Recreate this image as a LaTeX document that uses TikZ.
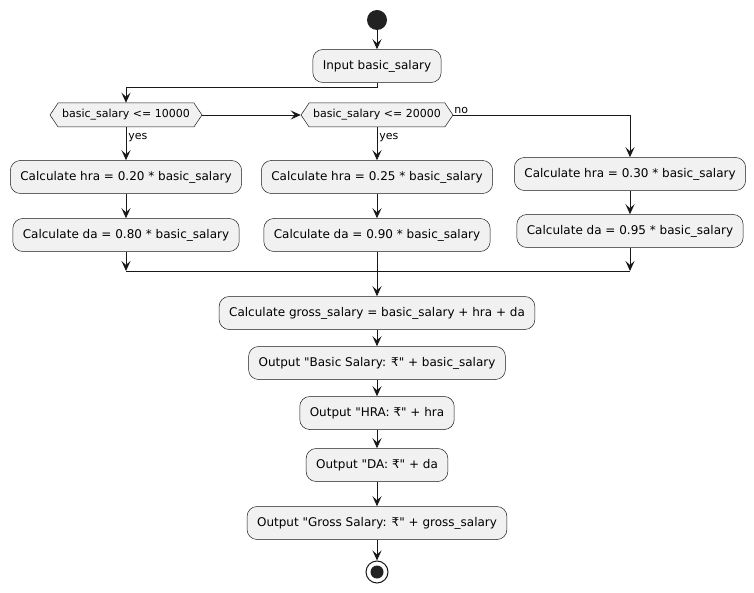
\documentclass[tikz,border=0pt]{standalone}
\usepackage{fontspec}
\setmainfont{DejaVu Sans}[Ligatures=TeXOff]
\usetikzlibrary{positioning,shapes.symbols,arrows.meta}

\definecolor{boxfill}{HTML}{F1F1F1}
\definecolor{boxline}{HTML}{181818}
\definecolor{dotfill}{HTML}{222222}

\begin{document}
\begin{tikzpicture}[
    x=1pt, y=-1pt,
    activity/.style={draw=boxline, line width=0.5pt, fill=boxfill, rounded corners=10pt,
        minimum height=33pt, inner xsep=10pt, font=\fontsize{12}{14}\selectfont},
    decision/.style={draw=boxline, line width=0.5pt, fill=boxfill, signal, signal to=west and east,
        signal pointer angle=112, minimum height=24pt, inner xsep=4pt, font=\fontsize{11}{13}\selectfont},
    flow/.style={-{Stealth[length=10pt,width=9pt,inset=4pt]}, draw=boxline, line width=0.9pt},
    link/.style={draw=boxline, line width=0.9pt},
    guard/.style={font=\fontsize{11}{13}\selectfont, inner sep=2pt}
]
\useasboundingbox (0,0) rectangle (754,593);

% Start
\node[circle, fill=dotfill, minimum size=20pt, inner sep=0pt] (start) at (377,20) {};

% Input
\node[activity] (input) at (377,66) {Input basic\_salary};

% Decisions
\node[decision] (check_low) at (126,115) {basic\_salary <= 10000};
\node[decision] (check_mid) at (377,115) {basic\_salary <= 20000};

% Branch activities
\node[activity] (hra_low) at (126,177) {Calculate hra = 0.20 * basic\_salary};
\node[activity] (da_low) at (126,235) {Calculate da = 0.80 * basic\_salary};
\node[activity] (hra_mid) at (377,177) {Calculate hra = 0.25 * basic\_salary};
\node[activity] (da_mid) at (377,235) {Calculate da = 0.90 * basic\_salary};
\node[activity] (hra_high) at (630,174) {Calculate hra = 0.30 * basic\_salary};
\node[activity] (da_high) at (630,231) {Calculate da = 0.95 * basic\_salary};

\coordinate (merge) at (377,271);

% Output activities
\node[activity] (gross) at (377,313) {Calculate gross\_salary = basic\_salary + hra + da};
\node[activity] (out_basic) at (377,363) {Output "Basic Salary: ₹" + basic\_salary};
\node[activity] (out_hra) at (377,413) {Output "HRA: ₹" + hra};
\node[activity] (out_da) at (377,465) {Output "DA: ₹" + da};
\node[activity] (out_gross) at (377,523) {Output "Gross Salary: ₹" + gross\_salary};

% Stop
\node[circle, draw=boxline, line width=1pt, fill=white, minimum size=22pt, inner sep=0pt] (stop) at (377,572) {};
\fill[dotfill] (stop) circle (6.5pt);

% Flows
\draw[flow] (start) -- (input);
\draw[flow] (input.south) -- ++(0,5) -| (check_low.north);
\draw[flow] (check_low.east) -- (check_mid.west);
\draw[flow] (check_low.south) -- node[guard, right, pos=0.3] {yes} (hra_low);
\draw[flow] (check_mid.south) -- node[guard, right, pos=0.3] {yes} (hra_mid);
\draw[flow] (check_mid.east) -| (hra_high.north);
\node[guard, above right, inner sep=1pt] (no_label) at (check_mid.east) {no};
\draw[flow] (hra_low) -- (da_low);
\draw[flow] (hra_mid) -- (da_mid);
\draw[flow] (hra_high) -- (da_high);

% Merge
\draw[flow] (da_low.south) -- (da_low.south |- merge);
\draw[flow] (da_high.south) -- (da_high.south |- merge);
\draw[link] (da_low.south |- merge) -- (da_high.south |- merge);
\draw[flow] (da_mid.south) -- (gross.north);

\draw[flow] (gross) -- (out_basic);
\draw[flow] (out_basic) -- (out_hra);
\draw[flow] (out_hra) -- (out_da);
\draw[flow] (out_da) -- (out_gross);
\draw[flow] (out_gross) -- (stop);

\end{tikzpicture}
\end{document}
